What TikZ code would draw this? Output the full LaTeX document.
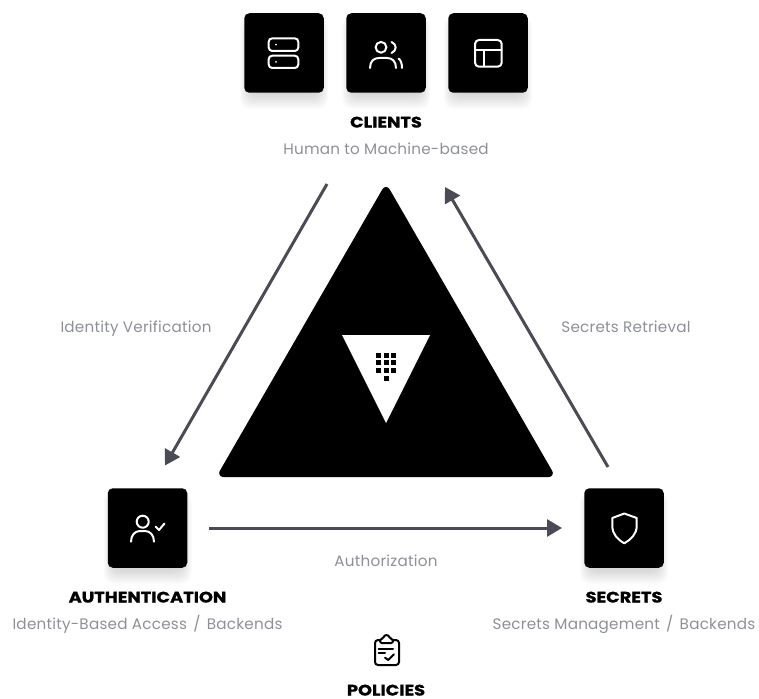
\documentclass[tikz,border=0pt]{standalone}
\usepackage{fontspec}
\setmainfont{Poppins}
\newfontfamily\headfont{Poppins}[FakeStretch=1.17,BoldFeatures={FakeBold=1.2}]
\usetikzlibrary{arrows.meta}
\definecolor{arrowc}{HTML}{4B4B55}
\definecolor{subc}{HTML}{8E9098}
\tikzset{
  tile/.style={fill=black,rounded corners=5pt,minimum size=79.5pt,inner sep=0pt,draw=none},
  ico/.style={draw=white,line width=2pt,line cap=round,line join=round,fill=none},
  icodark/.style={draw=black,line width=2pt,line cap=round,line join=round,fill=none},
  flowarrow/.style={draw=arrowc,line width=3pt,-{Triangle[length=15pt,width=17pt]},shorten >=0pt},
  heading/.style={font=\headfont\fontsize{15.2}{17}\selectfont\bfseries,text=black,inner sep=0pt,anchor=base},
  subtext/.style={font=\fontsize{15.2}{17}\selectfont\addfontfeatures{LetterSpace=1.5},text=subc,inner sep=0pt,anchor=base},
  edgetext/.style={subtext}
}
\newcommand{\softshadow}[2]{%
  \foreach \k in {0,...,13}{
    \fill[black,opacity=0.016,rounded corners=10pt]
      ({#1-44+\k*1.0},{#2-36+\k*0.6}) rectangle ({#1+44-\k*1.0},{#2+56-\k*1.5});
  }}
\begin{document}
\begin{tikzpicture}[x=1pt,y=-1pt]
\useasboundingbox (0,0) rectangle (759,698);
\softshadow{284}{53}
\softshadow{386}{53}
\softshadow{488}{53}
\softshadow{147.5}{528}
\softshadow{624}{528}
% tiles
\node[tile] (t1) at (284,53) {};
\node[tile] (t2) at (386,53) {};
\node[tile] (t3) at (488,53) {};
\node[tile] (auth) at (147.5,528) {};
\node[tile] (secr) at (624,528) {};
% server icon
\draw[ico,rounded corners=3.5pt] (268.7,38.3) rectangle (298.3,51);
\draw[ico,rounded corners=3.5pt] (268.7,55.7) rectangle (298.3,68);
\fill[white] (276,44.6) circle (1pt) (276,61.8) circle (1pt);
% users icon
\draw[ico] (381,47.3) circle (5.4);
\draw[ico] (370,68) .. controls (370,61) and (374,58) .. (379,58) -- (387,58) .. controls (392,58) and (396,61) .. (396,68);
\draw[ico] (391.5,42) .. controls (397,44) and (397,51) .. (391.5,53);
\draw[ico] (398.5,58.5) .. controls (401,60) and (402,64) .. (402,68);
% layout icon
\draw[ico,rounded corners=4pt] (475,40) rectangle (501.7,66.7);
\draw[ico] (475,50) -- (501.7,50);
\draw[ico] (483.5,50) -- (483.5,66.7);
% auth icon
\draw[ico] (142.7,521.7) circle (6);
\draw[ico] (131,541.7) .. controls (131,535) and (135,531) .. (140,531) -- (145,531) .. controls (150,531) and (154,535) .. (154,541.7);
\draw[ico] (155.5,526.5) -- (159,530) -- (164.5,523.5);
% shield icon
\draw[ico] (624.3,513.5) -- (636.7,518) -- (636.7,526) .. controls (636.7,534) and (631,539.5) .. (624.3,543.3) .. controls (617.6,539.5) and (612.3,534) .. (612.3,526) -- (612.3,518) -- cycle;
% central triangle
\fill[black,draw=black,line width=8pt,line join=round] (386,191) -- (548.8,473) -- (223.2,473) -- cycle;
\fill[white] (342,335) -- (430,335) -- (386,423) -- cycle;
\foreach \xx in {376,383.7,391.3}{
  \foreach \yy in {352.8,360.4,368}{
    \fill[black] (\xx,\yy) rectangle +(5,5);
  }
}
\fill[black] (383.7,375.7) rectangle +(5,5);
% arrows
\coordinate (cl) at (327,184);
\coordinate (au) at (165,465.5);
\coordinate (se) at (608,467);
\coordinate (cr) at (445,187);
\coordinate (aur) at (209,528);
\coordinate (sel) at (562,528);
\draw[flowarrow] (cl) -- (au);
\draw[flowarrow] (se) -- (cr);
\draw[flowarrow] (aur) -- (sel);
% text
\node[heading] (h1) at (386,127.5) {CLIENTS};
\node[subtext] (s1) at (386,154.5) {Human to Machine-based};
\node[edgetext] (e1) at (136,332) {Identity Verification};
\node[edgetext] (e2) at (626,332) {Secrets Retrieval};
\node[edgetext] (e3) at (386,566) {Authorization};
\node[heading] (h2) at (147.5,602.5) {AUTHENTICATION};
\node[subtext] (s2) at (147.5,629.5) {Identity-Based Access\hspace{2pt} / \hspace{2pt}Backends};
\node[heading] (h3) at (624,602.5) {SECRETS};
\node[subtext] (s3) at (624,629.5) {Secrets Management\hspace{2pt} / \hspace{2pt}Backends};
\node[heading] (h4) at (386,695.5) {POLICIES};
% clipboard icon
\draw[icodark,rounded corners=3pt] (380,640) -- (375,640) -- (375,665) -- (399,665) -- (399,640) -- (393,640);
\draw[icodark,rounded corners=2pt] (380,643) -- (380,639) -- (383.5,639) .. controls (384,634.5) and (389,634.5) .. (389.5,639) -- (393,639) -- (393,643) -- cycle;
\draw[icodark] (378.5,649) -- (393,649);
\draw[icodark] (378.5,653.3) -- (385,653.3);
\draw[icodark] (385,657.7) -- (388.3,660) -- (394,654.3);
\end{tikzpicture}
\end{document}
